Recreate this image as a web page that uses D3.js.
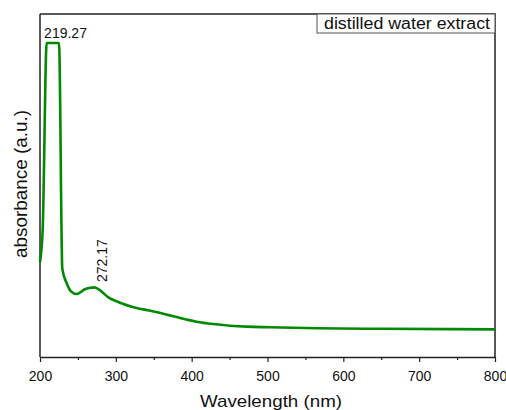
<!DOCTYPE html>
<html lang="en">
<head>
<meta charset="UTF-8">
<title>UV-Vis absorbance</title>
<style>
  body { margin: 0; background: #fff; }
  svg text { font-family: "Liberation Sans", Arial, sans-serif; fill: #111; }
</style>
</head>
<body>
<svg id="chart" width="506" height="410"></svg>
<script src="https://d3js.org/d3.v7.min.js"></script>
<script>
// wavelength (nm)
var wavelength = [200, 203.6, 208.8, 225.1, 229.4, 235.2, 241, 248.4, 259.3, 265, 271.6, 277, 281.4,
    290.1, 300, 310, 320, 330, 340, 350, 362.6, 375, 384.6, 395, 406.6, 428.5, 450.6, 472.6, 503.3, 565, 650, 800];
// absorbance (a.u.), estimated
var absorbance = [1.246, 1.69, 4.12, 4.12, 1.16, 0.967, 0.86, 0.827, 0.888, 0.905, 0.914, 0.89, 0.857,
    0.783, 0.735, 0.695, 0.662, 0.637, 0.618, 0.598, 0.566, 0.537, 0.512, 0.487, 0.463, 0.432, 0.411, 0.398,
    0.390, 0.377, 0.370, 0.363];
var xTicks = [200, 300, 400, 500, 600, 700, 800];
var xMinor = [250, 350, 450, 550, 650, 750];
var peakLabels = [{nm: 219.27, text: "219.27"}, {nm: 272.17, text: "272.17"}];
var legendText = "distilled water extract";

var svg = d3.select("#chart"),
    pLeft = 40, pRight = 495, pTop = 14, pBottom = 357;

var x = d3.scaleLinear().domain([200, 800]).range([pLeft, pRight]);
var y = d3.scaleLinear().domain([0, 4.5]).range([pBottom, pTop]);

var data = wavelength.map((w, i) => ({w: w, a: absorbance[i]}));

// frame: top and right borders
svg.append("path")
    .attr("d", `M${pLeft},${pTop}H${pRight}V${pBottom}`)
    .attr("fill", "none").attr("stroke", "#222").attr("stroke-width", 1.5);
// left axis line (no ticks)
svg.append("line")
    .attr("x1", pLeft).attr("x2", pLeft).attr("y1", pTop).attr("y2", pBottom)
    .attr("stroke", "#222").attr("stroke-width", 1.5);

// bottom axis
var xAxis = svg.append("g")
    .attr("transform", `translate(0,${pBottom})`)
    .call(d3.axisBottom(x).tickValues(xTicks).tickSize(5).tickPadding(9).tickSizeOuter(0));
xAxis.select(".domain").attr("stroke", "#222").attr("stroke-width", 1.5);
xAxis.selectAll(".tick line").attr("stroke", "#222").attr("stroke-width", 1.2);
xAxis.selectAll("text").style("font-size", "14px").attr("fill", "#111");
svg.append("g")
    .attr("transform", `translate(0,${pBottom})`)
    .call(d3.axisBottom(x).tickValues(xMinor).tickSize(3).tickFormat(""))
    .call(g => g.select(".domain").remove())
    .selectAll(".tick line").attr("stroke", "#222").attr("stroke-width", 1.2);

// curve
svg.append("path")
    .datum(data)
    .attr("fill", "none")
    .attr("stroke", "#008a00")
    .attr("stroke-width", 2.6)
    .attr("stroke-linejoin", "round")
    .attr("d", d3.line().x(d => x(d.w)).y(d => y(d.a)).curve(d3.curveMonotoneX));

// peak labels
svg.append("text")
    .attr("x", x(peakLabels[0].nm) - 10.5).attr("y", 38)
    .style("font-size", "14px")
    .text(peakLabels[0].text);
svg.append("text")
    .attr("transform", `translate(${x(peakLabels[1].nm) + 12},282) rotate(-90)`)
    .style("font-size", "14px")
    .text(peakLabels[1].text);

// legend box
svg.append("rect")
    .attr("x", 317).attr("y", pTop).attr("width", pRight - 317).attr("height", 19)
    .attr("fill", "#fff").attr("stroke", "#555").attr("stroke-width", 1);
svg.append("text")
    .attr("x", 324).attr("y", 29)
    .attr("textLength", 166).attr("lengthAdjust", "spacingAndGlyphs")
    .style("font-size", "16px")
    .text(legendText);

// axis titles
svg.append("text")
    .attr("x", 200).attr("y", 407)
    .attr("textLength", 142).attr("lengthAdjust", "spacingAndGlyphs")
    .style("font-size", "17px")
    .text("Wavelength (nm)");
svg.append("text")
    .attr("transform", "translate(27,258) rotate(-90)")
    .attr("textLength", 148).attr("lengthAdjust", "spacingAndGlyphs")
    .style("font-size", "18.5px")
    .text("absorbance (a.u.)");
</script>
</body>
</html>
